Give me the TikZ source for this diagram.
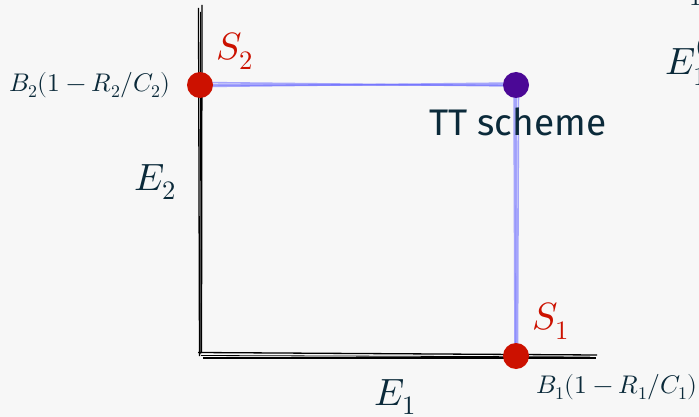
\documentclass[tikz,border=0pt]{standalone}
\usepackage{fontspec}
\usepackage{unicode-math}
\setmainfont{Fira Sans}
\definecolor{bgcol}{HTML}{F7F7F7}
\definecolor{txt}{HTML}{0B2A3A}
\definecolor{ptred}{HTML}{CC1100}
\definecolor{ptpurple}{HTML}{4B0896}
\definecolor{lnblue}{HTML}{6F6FFF}
\begin{document}
\begin{tikzpicture}[x=1pt,y=-1pt,
  axis/.style={black,line width=1.3pt},
  pathln/.style={lnblue,line width=1.6pt,opacity=0.6},
  dot/.style={circle,inner sep=0pt,minimum size=26pt},
  lbl/.style={text=txt,inner sep=0pt}]
\useasboundingbox (0,0) rectangle (699,417);
\fill[bgcol] (0,0) rectangle (699,417);
\clip (0,0) rectangle (699,417);
% axes (sketchy)
\draw[axis] (198.5,8) -- (199.5,356);
\draw[axis] (202,5) -- (201.5,352);
\draw[axis,line width=0.8pt] (200.5,12) -- (200.8,354);
\draw[axis] (198,352.5) -- (597,355);
\draw[axis] (203,358) -- (596,358);
\draw[axis,line width=0.8pt] (201,355.5) -- (590,357);
% blue path
\coordinate (S2c) at (200,85);
\coordinate (TTc) at (516,85);
\coordinate (S1c) at (516,356);
\draw[pathln] (S2c) -- (TTc);
\draw[pathln] ([yshift=2.5pt]S2c) -- ([yshift=-1pt]TTc);
\draw[pathln] ([yshift=-1.5pt]S2c) -- ([yshift=2pt]TTc);
\draw[pathln] (TTc) -- (S1c);
\draw[pathln] ([xshift=2.5pt]TTc) -- ([xshift=1.5pt]S1c);
\draw[pathln] ([xshift=-2pt]TTc) -- ([xshift=-1pt]S1c);
% points
\node[dot,fill=ptred] (S2) at (S2c) {};
\node[dot,fill=ptpurple] (TT) at (TTc) {};
\node[dot,fill=ptred] (S1) at (S1c) {};
% labels
\node[lbl,text=ptred,font=\fontsize{38}{44}\selectfont] (S2l) at (235,51) {$S_2$};
\node[lbl,text=ptred,font=\fontsize{38}{44}\selectfont] (S1l) at (551,321) {$S_1$};
\node[lbl,font=\fontsize{25.5}{30}\selectfont] (B2) at (90,85) {$B_2(1-R_2/C_2)$};
\node[lbl,font=\fontsize{25.5}{30}\selectfont] (B1) at (617,387) {$B_1(1-R_1/C_1)$};
\node[lbl,font=\fontsize{38}{44}\selectfont] (E2) at (155,182) {$E_2$};
\node[lbl,font=\fontsize{38}{44}\selectfont] (E1) at (395,397) {$E_1$};
\node[lbl,font=\fontsize{37}{44}\selectfont,anchor=north] (TTl) at (518,108) {TT scheme};
\node[lbl,font=\fontsize{38}{44}\selectfont,anchor=west] (Ez) at (665,60) {$E_1^{(0)}$};
\node[lbl,font=\fontsize{26}{30}\selectfont,anchor=south west] (one) at (689,6) {$1$};
\end{tikzpicture}
\end{document}
